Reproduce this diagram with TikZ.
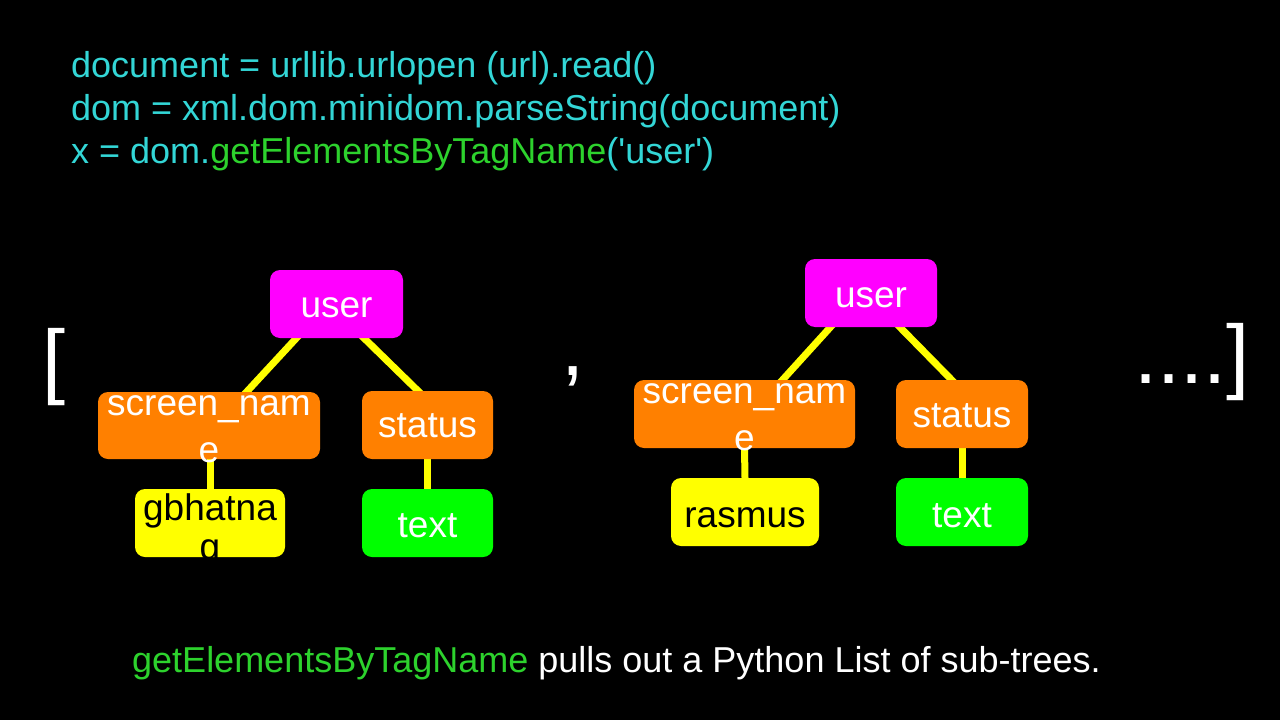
\documentclass[tikz,border=0pt]{standalone}
\usepackage{fontspec}
\setmainfont{Liberation Sans}
\usetikzlibrary{backgrounds}

\definecolor{codecyan}{RGB}{51,214,214}
\definecolor{codegreen}{RGB}{45,210,45}
\definecolor{usercol}{RGB}{255,0,255}
\definecolor{tagcol}{RGB}{255,128,0}
\definecolor{valcol}{RGB}{255,255,0}
\definecolor{textcol}{RGB}{0,255,0}
\definecolor{linkyellow}{RGB}{255,255,0}

% box label: baseline of first line raised by #2, line spacing #1
\newcommand{\tlbl}[3][45pt]{\smash{\raisebox{#2}{\vtop{\baselineskip=#1\relax\halign{\hfil##\hfil\cr#3\crcr}}}}}

\begin{document}
\begin{tikzpicture}[x=1pt,y=-1pt,
    tbox/.style={rounded corners=10pt,inner sep=0pt,minimum width=#1,minimum height=68pt,
      font=\fontsize{37}{45}\selectfont,text=white},
    link/.style={line width=7pt,draw=linkyellow},
    code/.style={anchor=base west,inner sep=0pt,font=\fontsize{36}{43}\selectfont,text=codecyan},
    brkt/.style={anchor=base west,inner sep=0pt,font=\fontsize{83}{90}\selectfont,text=white}]
    % background
    \begin{scope}[on background layer]
      \fill[black] (0,0) rectangle (1280,720);
    \end{scope}

    % code lines
    \node[code] (code1) at (71,77) {document = urllib.urlopen (url).read()};
    \node[code] (code2) at (71,120) {dom = xml.dom.minidom.parseString(document)};
    \node[code] (code3) at (71,163) {x = dom.{\color{codegreen}getElementsByTagName}(\textquotesingle user\textquotesingle)};

    % list brackets
    \node[brkt] (lbr) at (42.5,388) {[};
    \node[brkt] (comma) at (561,375) {,};
    \node[brkt,anchor=base east] (rbr) at (1249.5,383) {....]};

    % first sub-tree
    \node[tbox=133pt,fill=usercol] (u1) at (336.5,304) {\tlbl{-13pt}{user}};
    \node[tbox=222pt,fill=tagcol,minimum height=67pt] (sn1) at (209,425.5) {\tlbl[47pt]{10.5pt}{screen\_nam\cr e}};
    \node[tbox=131pt,fill=tagcol] (st1) at (427.5,425) {\tlbl{-12pt}{status}};
    \node[tbox=150pt,fill=valcol,text=black] (g1) at (210,523) {\tlbl[39pt]{3pt}{gbhatna\cr g}};
    \node[tbox=131pt,fill=textcol] (tx1) at (427.5,523) {\tlbl{-14pt}{text}};

    % second sub-tree
    \node[tbox=132pt,fill=usercol] (u2) at (871,293) {\tlbl{-14pt}{user}};
    \node[tbox=221pt,fill=tagcol] (sn2) at (744.5,414) {\tlbl[47pt]{11pt}{screen\_nam\cr e}};
    \node[tbox=132pt,fill=tagcol] (st2) at (962,414) {\tlbl{-13pt}{status}};
    \node[tbox=148pt,fill=valcol,text=black] (r2) at (745,512) {\tlbl{-15pt}{rasmus}};
    \node[tbox=132pt,fill=textcol] (tx2) at (962,512) {\tlbl{-15pt}{text}};

    % links, behind the boxes
    \begin{scope}[on background layer]
      \draw[link] ([xshift=-36.5pt,yshift=4pt]u1.south) -- ([xshift=34pt,yshift=-4pt]sn1.north);
      \draw[link] ([xshift=23.5pt,yshift=4pt]u1.south) -- ([xshift=-5.5pt,yshift=-4pt]st1.north);
      \draw[link] ([xshift=1pt]sn1.south) -- (g1.north);
      \draw[link] (st1.south) -- (tx1.north);
      \draw[link] ([xshift=-37pt,yshift=4pt]u2.south) -- ([xshift=34.5pt,yshift=-4pt]sn2.north);
      \draw[link] ([xshift=25pt,yshift=4pt]u2.south) -- ([xshift=-6.5pt,yshift=-4pt]st2.north);
      \draw[link] (sn2.south) -- (r2.north);
      \draw[link] (st2.south) -- (tx2.north);
    \end{scope}

    % caption
    \node[code,text=white] (cap) at (132,672) {{\color{codegreen}getElementsByTagName} pulls out a Python List of sub-trees.};
\end{tikzpicture}
\end{document}
